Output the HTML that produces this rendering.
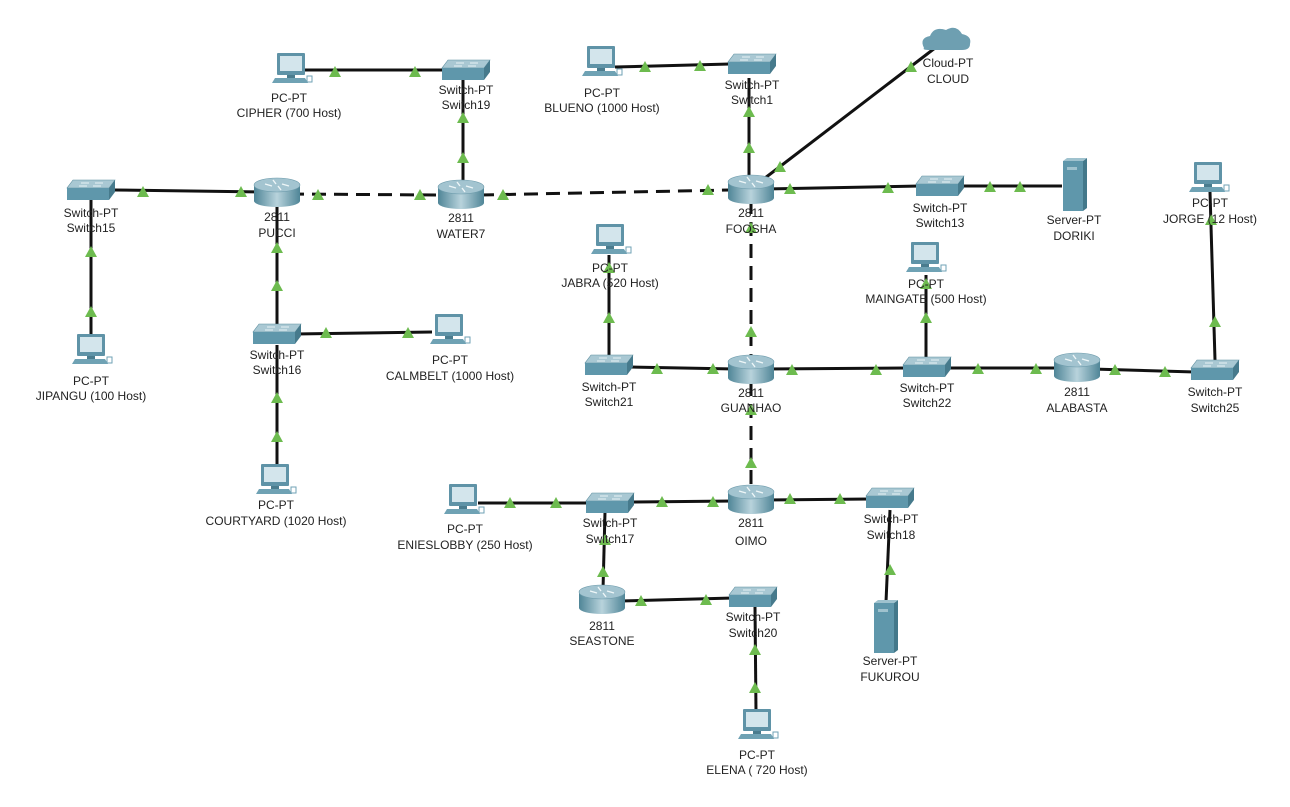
<!DOCTYPE html>
<html><head><meta charset="utf-8"><style>
html,body{margin:0;padding:0;background:#fff;}
svg text{font-family:"Liberation Sans",sans-serif;font-size:12px;fill:#222;text-anchor:middle;}
</style></head><body>
<svg width="1290" height="802" viewBox="0 0 1290 802" xmlns="http://www.w3.org/2000/svg">
<defs>
<linearGradient id="rg" x1="0" x2="1" y1="0" y2="0"><stop offset="0" stop-color="#4f8597"/><stop offset="0.5" stop-color="#b8d3dc"/><stop offset="1" stop-color="#4f8597"/></linearGradient>
<g id="sw">
<polygon points="-18,-11 24,-11 18,-3 -24,-3" fill="#a9c8d3" stroke="#5e8fa0" stroke-width="0.6"/>
<rect x="-24" y="-3" width="42" height="12" fill="#5f97ab"/>
<polygon points="18,-3 24,-11 24,1 18,9" fill="#467a8c"/>
<path d="M-10,-8 h8 M4,-8 h8 M-12,-5 h8 M2,-5 h8" stroke="#e8f2f5" stroke-width="1"/>
</g>
<g id="rt">
<rect x="-23" y="-8" width="46" height="16" fill="url(#rg)"/>
<ellipse cx="0" cy="8" rx="23" ry="6" fill="url(#rg)"/>
<ellipse cx="0" cy="-8" rx="23" ry="7" fill="#a3c4d0" stroke="#6e9cac" stroke-width="0.6"/>
<path d="M-12,-9 l7,2 M12,-7 l-7,-2 M-4,-13 l3,4 M4,-3 l-3,-4" stroke="#eef6f8" stroke-width="1.4"/>
</g>
<g id="pc">
<rect x="-14" y="-17" width="28" height="22" fill="#5f93a7" rx="1"/>
<rect x="-11" y="-14" width="22" height="15" fill="#d3e5ec"/>
<rect x="-4" y="5" width="8" height="3" fill="#4a7c8e"/>
<polygon points="-16,8 14,8 17,13 -19,13" fill="#6fa2b4"/>
<rect x="16" y="6" width="5" height="6" fill="#ffffff" stroke="#6fa2b4" stroke-width="1"/>
</g>
<g id="sv">
<rect x="-11" y="-25" width="20" height="50" fill="#5f97ab"/>
<polygon points="9,-25 13,-28 13,22 9,25" fill="#43788a"/>
<polygon points="-11,-25 -7,-28 13,-28 9,-25" fill="#9fc2ce"/>
<rect x="-7" y="-19" width="10" height="3" fill="#9fc2ce"/>
</g>
<g id="tri"><polygon points="0,-6 6,5 -6,5" fill="#6dbb4f"/></g>
</defs>

<g stroke="#111" stroke-width="3" fill="none">
<line x1="305" y1="70" x2="445" y2="70"/>
<line x1="463" y1="80" x2="463" y2="185"/>
<line x1="115" y1="190" x2="260" y2="192"/>
<line x1="615" y1="67" x2="730" y2="64"/>
<line x1="749" y1="78" x2="749" y2="178"/>
<line x1="765" y1="178" x2="935" y2="48"/>
<line x1="765" y1="189" x2="920" y2="186"/>
<line x1="960" y1="186" x2="1062" y2="186"/>
<line x1="91" y1="200" x2="91" y2="340"/>
<line x1="277" y1="205" x2="277" y2="325"/>
<line x1="295" y1="334" x2="432" y2="332"/>
<line x1="277" y1="345" x2="277" y2="465"/>
<line x1="609" y1="255" x2="609" y2="357"/>
<line x1="630" y1="367" x2="735" y2="369"/>
<line x1="765" y1="369" x2="905" y2="368"/>
<line x1="926" y1="275" x2="926" y2="358"/>
<line x1="948" y1="368" x2="1060" y2="368"/>
<line x1="1092" y1="369" x2="1195" y2="372"/>
<line x1="1215" y1="360" x2="1210" y2="192"/>
<line x1="630" y1="502" x2="735" y2="501"/>
<line x1="765" y1="500" x2="870" y2="499"/>
<line x1="478" y1="503" x2="590" y2="503"/>
<line x1="605" y1="512" x2="603" y2="590"/>
<line x1="620" y1="601" x2="733" y2="598"/>
<line x1="755" y1="607" x2="756" y2="712"/>
<line x1="890" y1="510" x2="886" y2="602"/>
</g>
<g stroke="#111" stroke-width="3" fill="none" stroke-dasharray="14,8">
<line x1="290" y1="194" x2="440" y2="195"/>
<line x1="480" y1="195" x2="730" y2="190"/>
<line x1="751" y1="200" x2="751" y2="358"/>
<line x1="751" y1="382" x2="751" y2="488"/>
</g>

<g>
<use href="#tri" x="335" y="72"/><use href="#tri" x="415" y="72"/>
<use href="#tri" x="463" y="118"/><use href="#tri" x="463" y="158"/>
<use href="#tri" x="318" y="195"/><use href="#tri" x="420" y="195"/>
<use href="#tri" x="143" y="192"/><use href="#tri" x="241" y="192"/>
<use href="#tri" x="503" y="195"/><use href="#tri" x="708" y="190"/>
<use href="#tri" x="645" y="67"/><use href="#tri" x="700" y="66"/>
<use href="#tri" x="749" y="112"/><use href="#tri" x="749" y="148"/>
<use href="#tri" x="780" y="167"/><use href="#tri" x="911" y="67"/>
<use href="#tri" x="790" y="189"/><use href="#tri" x="888" y="188"/>
<use href="#tri" x="990" y="187"/><use href="#tri" x="1020" y="187"/>
<use href="#tri" x="751" y="228"/><use href="#tri" x="751" y="332"/>
<use href="#tri" x="91" y="252"/><use href="#tri" x="91" y="312"/>
<use href="#tri" x="277" y="248"/><use href="#tri" x="277" y="286"/>
<use href="#tri" x="326" y="333"/><use href="#tri" x="408" y="333"/>
<use href="#tri" x="277" y="398"/><use href="#tri" x="277" y="437"/>
<use href="#tri" x="609" y="318"/><use href="#tri" x="609" y="268"/>
<use href="#tri" x="657" y="369"/><use href="#tri" x="713" y="369"/>
<use href="#tri" x="792" y="370"/><use href="#tri" x="876" y="370"/>
<use href="#tri" x="926" y="318"/><use href="#tri" x="926" y="284"/>
<use href="#tri" x="978" y="369"/><use href="#tri" x="1036" y="369"/>
<use href="#tri" x="1115" y="370"/><use href="#tri" x="1165" y="372"/>
<use href="#tri" x="1215" y="322"/><use href="#tri" x="1211" y="220"/>
<use href="#tri" x="751" y="410"/><use href="#tri" x="751" y="463"/>
<use href="#tri" x="662" y="502"/><use href="#tri" x="713" y="502"/>
<use href="#tri" x="790" y="499"/><use href="#tri" x="840" y="499"/>
<use href="#tri" x="510" y="503"/><use href="#tri" x="556" y="503"/>
<use href="#tri" x="605" y="540"/><use href="#tri" x="603" y="572"/>
<use href="#tri" x="641" y="601"/><use href="#tri" x="706" y="600"/>
<use href="#tri" x="755" y="650"/><use href="#tri" x="755" y="688"/>
<use href="#tri" x="890" y="570"/>
</g>

<!-- icons -->
<use href="#pc" x="291" y="70"/>
<use href="#sw" x="466" y="71"/>
<use href="#pc" x="601" y="63"/>
<use href="#sw" x="752" y="65"/>
<path d="M924,48 q-5,-10 6,-12 q4,-10 16,-6 q10,-6 16,4 q10,2 8,10 q0,6 -8,6 h-32 q-8,0 -6,-2z" fill="#6e9fb1"/>
<use href="#sw" x="91" y="191"/>
<use href="#rt" x="277" y="193"/>
<use href="#rt" x="461" y="195"/>
<use href="#rt" x="751" y="190"/>
<use href="#sw" x="940" y="187"/>
<use href="#sv" x="1074" y="186"/>
<use href="#pc" x="1208" y="179"/>
<use href="#pc" x="610" y="241"/>
<use href="#pc" x="925" y="259"/>
<use href="#pc" x="91" y="351"/>
<use href="#sw" x="277" y="335"/>
<use href="#pc" x="449" y="331"/>
<use href="#sw" x="609" y="366"/>
<use href="#rt" x="751" y="370"/>
<use href="#sw" x="927" y="368"/>
<use href="#rt" x="1077" y="368"/>
<use href="#sw" x="1215" y="371"/>
<use href="#pc" x="275" y="481"/>
<use href="#pc" x="463" y="501"/>
<use href="#sw" x="610" y="504"/>
<use href="#rt" x="751" y="500"/>
<use href="#sw" x="890" y="499"/>
<use href="#rt" x="602" y="600"/>
<use href="#sw" x="753" y="598"/>
<use href="#sv" x="885" y="628"/>
<use href="#pc" x="757" y="726"/>

<!-- labels -->
<text x="289" y="102">PC-PT</text><text x="289" y="117">CIPHER (700 Host)</text>
<text x="466" y="94">Switch-PT</text><text x="466" y="109">Switch19</text>
<text x="602" y="97">PC-PT</text><text x="602" y="112">BLUENO (1000 Host)</text>
<text x="752" y="89">Switch-PT</text><text x="752" y="104">Switch1</text>
<text x="948" y="67">Cloud-PT</text><text x="948" y="83">CLOUD</text>
<text x="91" y="217">Switch-PT</text><text x="91" y="232">Switch15</text>
<text x="277" y="221">2811</text><text x="277" y="237">PUCCI</text>
<text x="461" y="222">2811</text><text x="461" y="238">WATER7</text>
<text x="751" y="217">2811</text><text x="751" y="233">FOOSHA</text>
<text x="940" y="212">Switch-PT</text><text x="940" y="227">Switch13</text>
<text x="1074" y="224">Server-PT</text><text x="1074" y="240">DORIKI</text>
<text x="1210" y="207">PC-PT</text><text x="1210" y="223">JORGE (12 Host)</text>
<text x="610" y="272">PC-PT</text><text x="610" y="287">JABRA (520 Host)</text>
<text x="926" y="288">PC-PT</text><text x="926" y="303">MAINGATE (500 Host)</text>
<text x="91" y="385">PC-PT</text><text x="91" y="400">JIPANGU (100 Host)</text>
<text x="277" y="359">Switch-PT</text><text x="277" y="374">Switch16</text>
<text x="450" y="364">PC-PT</text><text x="450" y="380">CALMBELT (1000 Host)</text>
<text x="609" y="391">Switch-PT</text><text x="609" y="406">Switch21</text>
<text x="751" y="397">2811</text><text x="751" y="412">GUANHAO</text>
<text x="927" y="392">Switch-PT</text><text x="927" y="407">Switch22</text>
<text x="1077" y="396">2811</text><text x="1077" y="412">ALABASTA</text>
<text x="1215" y="396">Switch-PT</text><text x="1215" y="412">Switch25</text>
<text x="276" y="509">PC-PT</text><text x="276" y="525">COURTYARD (1020 Host)</text>
<text x="465" y="533">PC-PT</text><text x="465" y="549">ENIESLOBBY (250 Host)</text>
<text x="610" y="527">Switch-PT</text><text x="610" y="543">Switch17</text>
<text x="751" y="527">2811</text><text x="751" y="545">OIMO</text>
<text x="891" y="523">Switch-PT</text><text x="891" y="539">Switch18</text>
<text x="602" y="630">2811</text><text x="602" y="645">SEASTONE</text>
<text x="753" y="621">Switch-PT</text><text x="753" y="637">Switch20</text>
<text x="890" y="665">Server-PT</text><text x="890" y="681">FUKUROU</text>
<text x="757" y="759">PC-PT</text><text x="757" y="774">ELENA ( 720 Host)</text>
</svg>
</body></html>
